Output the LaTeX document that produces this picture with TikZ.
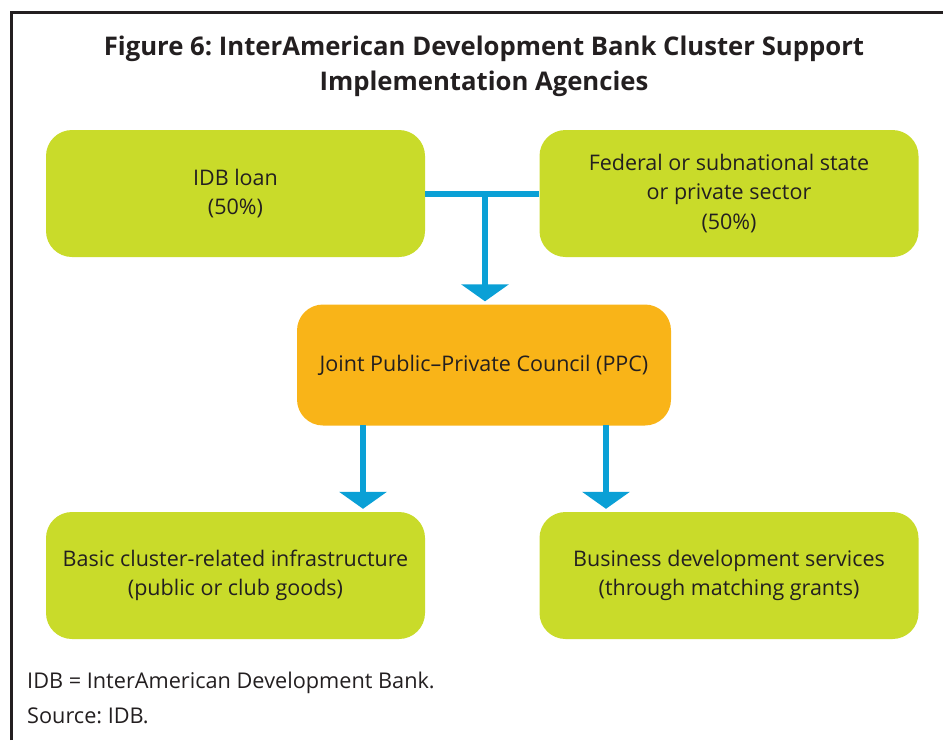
\documentclass[tikz,border=0pt]{standalone}
\usepackage{fontspec}
\setmainfont{Open Sans}
\usetikzlibrary{arrows.meta}
\frenchspacing
\definecolor{boxgreen}{HTML}{C9DB2A}
\definecolor{boxorange}{HTML}{F9B418}
\definecolor{linkblue}{HTML}{0AA0D6}
\definecolor{inkdark}{HTML}{231F20}
\tikzset{
  greenbox/.style={fill=boxgreen, rounded corners=26pt, minimum width=379pt, minimum height=127pt, align=center, text=inkdark, font=\fontsize{21.5}{29.5}\selectfont, inner sep=0pt},
  orangebox/.style={fill=boxorange, rounded corners=26pt, minimum width=374pt, minimum height=121pt, align=center, text=inkdark, font=\fontsize{21.5}{29.5}\selectfont, inner sep=0pt},
  link/.style={draw=linkblue, line width=6pt},
  linkarrow/.style={link, -{Triangle[width=47pt,length=17pt]}, shorten >=3pt},
  titletext/.style={align=center, text=inkdark, font=\fontsize{25.7}{35}\selectfont\bfseries},
  notetext/.style={anchor=west, text=inkdark, font=\fontsize{21.7}{24}\selectfont, inner sep=0pt}
}
\begin{document}
\begin{tikzpicture}[x=1pt,y=-1pt]
\useasboundingbox (0,0) rectangle (943,740);
\draw[inkdark, line width=3pt] (11,740) -- (11,12) -- (943,12);
\node[titletext] (title) at (484,66.5) {Figure 6: InterAmerican Development Bank Cluster Support\\Implementation Agencies};
\node[greenbox] (loan) at (235.5,193.5) {IDB loan\\(50\%)};
\node[greenbox] (state) at (729,193.5) {Federal or subnational state\\or private sector\\(50\%)};
\node[orangebox] (ppc) at (484,365) {Joint Public–Private Council (PPC)};
\node[greenbox] (infra) at (235.5,575.5) {Basic cluster-related infrastructure\\(public or club goods)};
\node[greenbox] (bds) at (729,575.5) {Business development services\\(through matching grants)};
\coordinate (join) at (485,193.5);
\draw[link] (loan.east) -- (state.west);
\draw[linkarrow] (join) -- (join |- ppc.north);
\draw[linkarrow] (363,425) coordinate (p1) -- (p1 |- infra.north);
\draw[linkarrow] (606,425) coordinate (p2) -- (p2 |- bds.north);
\node[notetext] (note) at (27,683) {IDB = InterAmerican Development Bank.};
\node[notetext] (source) at (27,716) {Source: IDB.};
\end{tikzpicture}
\end{document}
